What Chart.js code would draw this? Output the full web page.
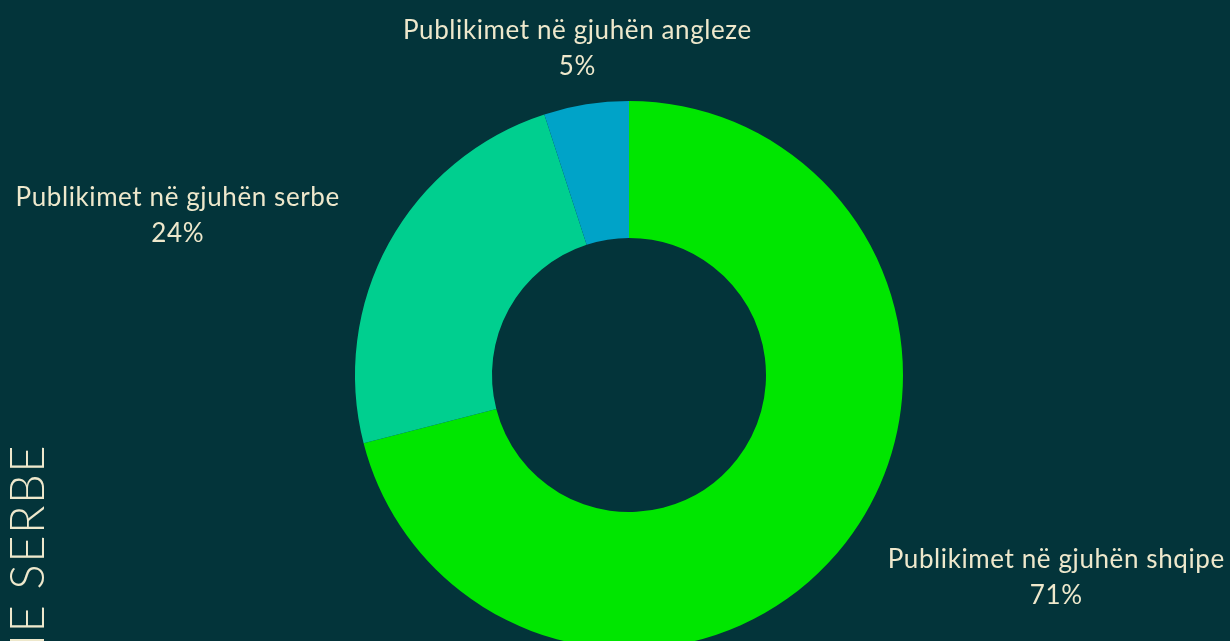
<!DOCTYPE html>
<html>
<head>
<meta charset="utf-8">
<script src="https://cdn.jsdelivr.net/npm/chart.js@4"></script>
<style>
  html, body { margin: 0; padding: 0; background: #03343a; overflow: hidden; }
  #frame { width: 1230px; height: 641px; overflow: hidden; position: relative; }
  #box { width: 1230px; height: 700px; position: relative; }
</style>
</head>
<body>
<div id="frame"><div id="box"><canvas id="langChart"></canvas></div></div>
<script>
const labels = ['Publikimet në gjuhën shqipe', 'Publikimet në gjuhën serbe', 'Publikimet në gjuhën angleze'];
const shares = [71, 24, 5];
const colors = ['#00e600', '#00cf8f', '#00a3c8'];
const sideText = 'DHE SERBE';

const textColor = '#eee8cc';

// labels outside each slice, two lines, aligned by side
const outerLabels = {
    id: 'outerLabels',
    afterDatasetsDraw(chart) {
        const ctx = chart.ctx;
        const meta = chart.getDatasetMeta(0);
        ctx.save();
        ctx.fillStyle = textColor;
        ctx.font = '26px Lato';
        ctx.letterSpacing = '0.6px';
        ctx.textBaseline = 'middle';
        ctx.textAlign = 'center';
        meta.data.forEach((arc, i) => {
            const mid = (arc.startAngle + arc.endAngle) / 2;
            const r = arc.outerRadius + 56;
            const ax = arc.x + Math.cos(mid) * r;
            const ay = arc.y + Math.sin(mid) * r;
            const lines = [labels[i], shares[i] + '%'];
            const w = Math.max(...lines.map(t => ctx.measureText(t).width));
            let cx = ax;
            const c = Math.cos(mid);
            if (c > 0.3) cx = ax - 2 + w / 2;
            else if (c < -0.3) cx = ax - w / 2;
            ctx.fillText(lines[0], cx, ay - 18);
            ctx.fillText(lines[1], cx, ay + 18);
        });
        // clipped vertical heading on the left
        ctx.font = '300 47px Lato';
        ctx.letterSpacing = '1.5px';
        ctx.textAlign = 'right';
        ctx.textBaseline = 'alphabetic';
        ctx.translate(44, 444);
        ctx.rotate(-Math.PI / 2);
        ctx.fillText(sideText, 0, 0);
        ctx.restore();
    }
};

new Chart(document.getElementById('langChart'), {
    type: 'doughnut',
    data: {
        labels,
        datasets: [{
            data: shares,
            backgroundColor: colors,
            borderWidth: 0
        }]
    },
    options: {
        responsive: true,
        maintainAspectRatio: false,
        animation: false,
        cutout: '50%',
        layout: { padding: { top: 101, bottom: 51, left: 355, right: 327 } },
        plugins: {
            legend: { display: false },
            tooltip: { enabled: false }
        }
    },
    plugins: [outerLabels]
});
</script>
</body>
</html>
